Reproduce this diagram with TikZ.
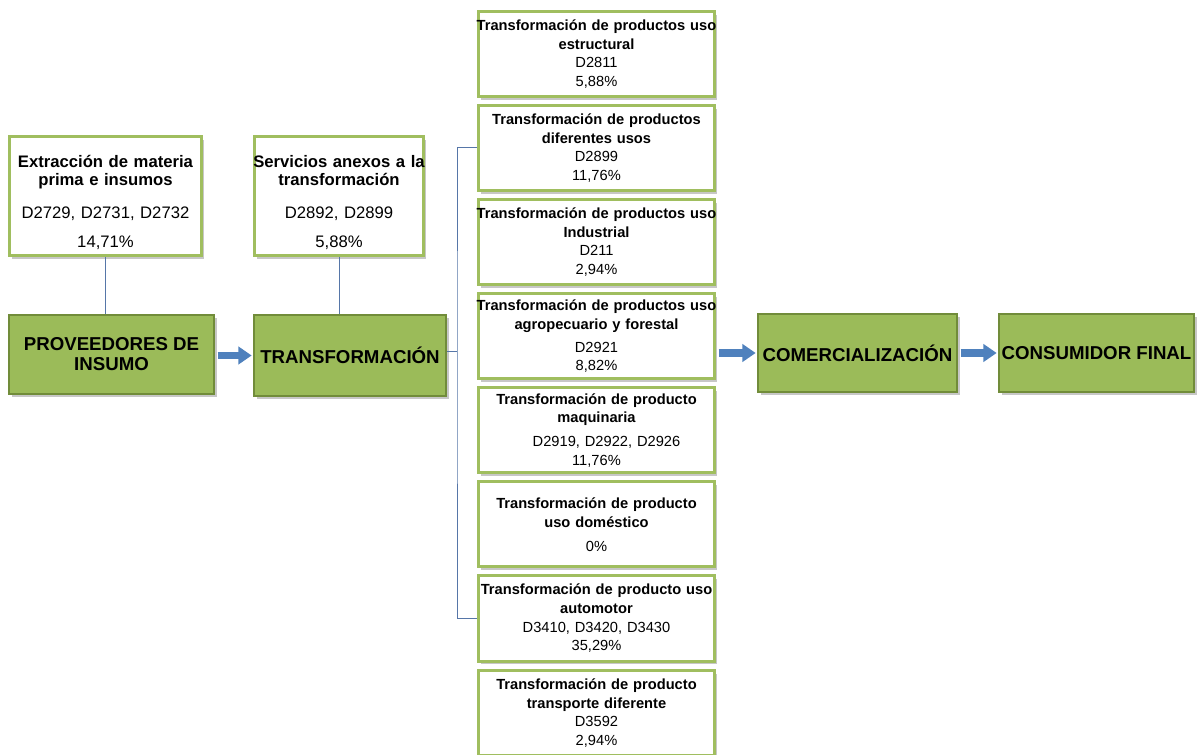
\documentclass[tikz,border=0pt]{standalone}
\usepackage{fontspec}
\setmainfont{Liberation Sans}
\usetikzlibrary{arrows.meta,shadows}

\definecolor{olivefill}{RGB}{155,187,89}
\definecolor{olivedark}{RGB}{113,140,58}
\definecolor{olivelight}{RGB}{160,190,95}
\definecolor{flowblue}{RGB}{79,129,189}
\definecolor{linkblue}{RGB}{86,118,168}

\tikzset{
  boxshadow/.style={drop shadow={shadow xshift=2pt, shadow yshift=-2.5pt, fill=black, opacity=0.22}},
  stagebox/.style={draw=olivedark, line width=1.5pt, fill=olivefill, align=center,
    inner sep=0pt, font=\fontsize{14}{15}\selectfont\bfseries, boxshadow},
  infobox/.style={draw=olivelight, line width=2.25pt, fill=white, align=center,
    inner ysep=0pt, inner xsep=-3pt, boxshadow},
  sidebox/.style={infobox, minimum height=89pt, font=\fontsize{12.5}{13.5}\selectfont},
  colbox/.style={infobox, text width=183pt, minimum height=63.75pt, font=\fontsize{11}{14}\selectfont},
  flow/.style={flowblue, line width=5.5pt, -{Triangle[length=10pt,width=13pt]},
    shorten <=2pt, shorten >=1pt},
  link/.style={linkblue, line width=0.75pt},
}

\begin{document}
\begin{tikzpicture}[x=0.75pt,y=-0.75pt]
  \useasboundingbox (0,0) rectangle (1197,755);

  % Upper boxes
  \node[sidebox, text width=150pt] (ext) at (105.5,196)
    {{\bfseries\rule{0pt}{19pt}Extracción de materia\\ prima e insumos}\\[11.5pt]
     D2729, D2731, D2732\\[8.5pt] 14,71\%};
  \node[sidebox, text width=133pt] (serv) at (339,196)
    {{\bfseries\rule{0pt}{19pt}Servicios anexos a la\\ transformación}\\[11.5pt]
     D2892, D2899\\[8.5pt] 5,88\%};

  % Chain
  \node[stagebox, minimum width=153.75pt, minimum height=59.25pt] (prov) at (111.5,354.5)
    {PROVEEDORES DE\\ INSUMO};
  \node[stagebox, minimum width=144pt, minimum height=60.75pt] (trans) at (350,355.5)
    {TRANSFORMACIÓN};
  \node[stagebox, minimum width=149.25pt, minimum height=58.5pt] (com) at (857.5,353)
    {COMERCIALIZACIÓN};
  \node[stagebox, minimum width=146.25pt, minimum height=58.5pt] (cons) at (1096.5,353)
    {CONSUMIDOR FINAL};

  % Column of transformations
  \node[colbox] (t1) at (596.5,54)
    {{\bfseries Transformación de productos uso\\ estructural}\\ D2811\\ 5,88\%};
  \node[colbox] (t2) at (596.5,148)
    {{\bfseries Transformación de productos\\ diferentes usos}\\ D2899\\ 11,76\%};
  \node[colbox] (t3) at (596.5,242)
    {{\bfseries Transformación de productos uso\\ Industrial}\\ D211\\ 2,94\%};
  \node[colbox] (t4) at (596.5,336.5)
    {{\bfseries Transformación de productos uso\\ agropecuario y forestal}\\[3pt] D2921\\ 8,82\%};
  \node[colbox] (t5) at (596.5,430.5)
    {{\bfseries Transformación de producto\\ maquinaria}\\[4pt] \hspace*{15pt}D2919, D2922, D2926\\ 11,76\%};
  \node[colbox] (t6) at (596.5,524.5)
    {{\bfseries Transformación de producto\\ uso doméstico}\\[4pt] 0\%};
  \node[colbox] (t7) at (596.5,618.5)
    {{\bfseries Transformación de producto uso\\ automotor}\\ D3410, D3420, D3430\\ 35,29\%};
  \node[colbox] (t8) at (596.5,713)
    {{\bfseries Transformación de producto\\ transporte diferente}\\ D3592\\ 2,94\%};

  % Connectors
  \draw[link] (ext.south) -- (ext.south |- prov.north);
  \draw[link] (serv.south) -- (serv.south |- trans.north);
  \coordinate (brk) at (457,352);
  \draw[link] (trans.east |- brk) -- (brk);
  \draw[link] (t2.west) -| (brk) |- (t7.west);

  % Flow arrows
  \draw[flow] (prov.east |- trans.center) -- (trans.west);
  \draw[flow] (com.west -| t4.east) -- (com.west);
  \draw[flow] (com.east) -- (cons.west);
\end{tikzpicture}
\end{document}
